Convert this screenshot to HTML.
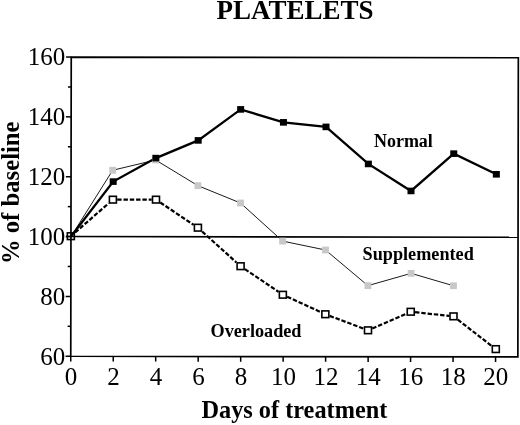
<!DOCTYPE html>
<html><head><meta charset="utf-8"><style>
html,body{margin:0;padding:0;background:#fff;}
body{width:520px;height:425px;overflow:hidden;}
svg{display:block;will-change:transform;}
text{font-family:"Liberation Serif",serif;fill:#000;}
.b{font-weight:bold;}
</style></head><body>
<svg width="520" height="425" viewBox="0 0 520 425">
<rect width="520" height="425" fill="#fff"/>

<path d="M71.24,57.04 L518.34,57.76 L517.86,356.96 L70.76,356.24 Z" fill="none" stroke="#000" stroke-width="1.7" stroke-linejoin="miter"/>
<line x1="65.95" y1="236.56" x2="518.05" y2="237.28" stroke="#000" stroke-width="1.6"/>
<line x1="65.56" y1="356.23" x2="70.76" y2="356.24" stroke="#000" stroke-width="1.5"/>
<line x1="67.61" y1="326.32" x2="70.81" y2="326.32" stroke="#000" stroke-width="1.5"/>
<line x1="65.66" y1="296.39" x2="70.86" y2="296.40" stroke="#000" stroke-width="1.5"/>
<line x1="67.70" y1="266.48" x2="70.90" y2="266.48" stroke="#000" stroke-width="1.5"/>
<line x1="65.75" y1="236.55" x2="70.95" y2="236.56" stroke="#000" stroke-width="1.5"/>
<line x1="67.80" y1="206.64" x2="71.00" y2="206.64" stroke="#000" stroke-width="1.5"/>
<line x1="65.85" y1="176.71" x2="71.05" y2="176.72" stroke="#000" stroke-width="1.5"/>
<line x1="67.90" y1="146.80" x2="71.10" y2="146.80" stroke="#000" stroke-width="1.5"/>
<line x1="65.94" y1="116.87" x2="71.14" y2="116.88" stroke="#000" stroke-width="1.5"/>
<line x1="67.99" y1="86.96" x2="71.19" y2="86.96" stroke="#000" stroke-width="1.5"/>
<line x1="66.04" y1="57.04" x2="71.24" y2="57.04" stroke="#000" stroke-width="1.5"/>
<line x1="70.76" y1="356.24" x2="70.75" y2="361.44" stroke="#000" stroke-width="1.5"/>
<line x1="113.24" y1="356.31" x2="113.23" y2="361.51" stroke="#000" stroke-width="1.5"/>
<line x1="155.72" y1="356.38" x2="155.71" y2="361.58" stroke="#000" stroke-width="1.5"/>
<line x1="198.20" y1="356.45" x2="198.19" y2="361.65" stroke="#000" stroke-width="1.5"/>
<line x1="240.68" y1="356.51" x2="240.67" y2="361.71" stroke="#000" stroke-width="1.5"/>
<line x1="283.16" y1="356.58" x2="283.15" y2="361.78" stroke="#000" stroke-width="1.5"/>
<line x1="325.64" y1="356.65" x2="325.63" y2="361.85" stroke="#000" stroke-width="1.5"/>
<line x1="368.12" y1="356.72" x2="368.11" y2="361.92" stroke="#000" stroke-width="1.5"/>
<line x1="410.60" y1="356.79" x2="410.59" y2="361.99" stroke="#000" stroke-width="1.5"/>
<line x1="453.08" y1="356.85" x2="453.07" y2="362.05" stroke="#000" stroke-width="1.5"/>
<line x1="495.56" y1="356.92" x2="495.55" y2="362.12" stroke="#000" stroke-width="1.5"/>
<text x="65.3" y="364.60" font-size="25" text-anchor="end">60</text>
<text x="65.3" y="304.76" font-size="25" text-anchor="end">80</text>
<text x="65.3" y="244.92" font-size="25" text-anchor="end">100</text>
<text x="65.3" y="185.08" font-size="25" text-anchor="end">120</text>
<text x="65.3" y="125.24" font-size="25" text-anchor="end">140</text>
<text x="65.3" y="65.40" font-size="25" text-anchor="end">160</text>
<text x="71.00" y="384.5" font-size="25" text-anchor="middle">0</text>
<text x="113.48" y="384.5" font-size="25" text-anchor="middle">2</text>
<text x="155.96" y="384.5" font-size="25" text-anchor="middle">4</text>
<text x="198.44" y="384.5" font-size="25" text-anchor="middle">6</text>
<text x="240.92" y="384.5" font-size="25" text-anchor="middle">8</text>
<text x="283.40" y="384.5" font-size="25" text-anchor="middle">10</text>
<text x="325.88" y="384.5" font-size="25" text-anchor="middle">12</text>
<text x="368.36" y="384.5" font-size="25" text-anchor="middle">14</text>
<text x="410.84" y="384.5" font-size="25" text-anchor="middle">16</text>
<text x="453.32" y="384.5" font-size="25" text-anchor="middle">18</text>
<text x="495.80" y="384.5" font-size="25" text-anchor="middle">20</text>
<polyline points="71.00,236.50 112.70,170.25 155.60,160.00 197.90,185.65 240.50,203.00 282.60,241.10 325.50,250.00 367.90,285.65 411.10,273.35 453.50,285.75" fill="none" stroke="#1a1a1a" stroke-width="1.0"/>
<line x1="75.15" y1="232.46" x2="108.60" y2="203.39" stroke="#000" stroke-width="2.2" stroke-dasharray="4.4 1.9"/>
<line x1="117.20" y1="199.65" x2="151.70" y2="199.65" stroke="#000" stroke-width="2.2" stroke-dasharray="4.4 1.9"/>
<line x1="160.30" y1="202.53" x2="193.60" y2="224.82" stroke="#000" stroke-width="2.2" stroke-dasharray="4.4 1.9"/>
<line x1="202.20" y1="231.58" x2="236.30" y2="262.32" stroke="#000" stroke-width="2.2" stroke-dasharray="4.4 1.9"/>
<line x1="244.90" y1="269.11" x2="278.55" y2="291.84" stroke="#000" stroke-width="2.2" stroke-dasharray="4.4 1.9"/>
<line x1="287.15" y1="296.72" x2="321.05" y2="312.28" stroke="#000" stroke-width="2.2" stroke-dasharray="4.4 1.9"/>
<line x1="329.65" y1="315.87" x2="363.70" y2="328.68" stroke="#000" stroke-width="2.2" stroke-dasharray="4.4 1.9"/>
<line x1="372.30" y1="328.43" x2="406.45" y2="313.62" stroke="#000" stroke-width="2.2" stroke-dasharray="4.4 1.9"/>
<line x1="415.05" y1="312.21" x2="449.20" y2="315.89" stroke="#000" stroke-width="2.2" stroke-dasharray="4.4 1.9"/>
<line x1="457.80" y1="319.68" x2="491.50" y2="345.77" stroke="#000" stroke-width="2.2" stroke-dasharray="4.4 1.9"/>
<polyline points="71.00,236.50 113.20,181.60 155.85,158.10 198.20,140.40 240.65,109.40 283.45,122.35 326.00,126.90 368.35,163.95 411.00,190.95 453.75,153.65 496.35,174.30" fill="none" stroke="#000" stroke-width="2.3" stroke-linejoin="miter"/>
<rect x="109.30" y="166.85" width="6.8" height="6.8" fill="#c8c8c8"/>
<rect x="152.20" y="156.60" width="6.8" height="6.8" fill="#c8c8c8"/>
<rect x="194.50" y="182.25" width="6.8" height="6.8" fill="#c8c8c8"/>
<rect x="237.10" y="199.60" width="6.8" height="6.8" fill="#c8c8c8"/>
<rect x="279.20" y="237.70" width="6.8" height="6.8" fill="#c8c8c8"/>
<rect x="322.10" y="246.60" width="6.8" height="6.8" fill="#c8c8c8"/>
<rect x="364.50" y="282.25" width="6.8" height="6.8" fill="#c8c8c8"/>
<rect x="407.70" y="269.95" width="6.8" height="6.8" fill="#c8c8c8"/>
<rect x="450.10" y="282.35" width="6.8" height="6.8" fill="#c8c8c8"/>
<rect x="109.70" y="178.30" width="7" height="6.6" fill="#000"/>
<rect x="152.35" y="154.80" width="7" height="6.6" fill="#000"/>
<rect x="194.70" y="137.10" width="7" height="6.6" fill="#000"/>
<rect x="237.15" y="106.10" width="7" height="6.6" fill="#000"/>
<rect x="279.95" y="119.05" width="7" height="6.6" fill="#000"/>
<rect x="322.50" y="123.60" width="7" height="6.6" fill="#000"/>
<rect x="364.85" y="160.65" width="7" height="6.6" fill="#000"/>
<rect x="407.50" y="187.65" width="7" height="6.6" fill="#000"/>
<rect x="450.25" y="150.35" width="7" height="6.6" fill="#000"/>
<rect x="492.85" y="171.00" width="7" height="6.6" fill="#000"/>
<rect x="67.35" y="232.85" width="7.0" height="6.7" fill="none" stroke="#000" stroke-width="1.6"/>
<rect x="109.40" y="196.30" width="7.0" height="6.7" fill="#fff" stroke="#000" stroke-width="1.6"/>
<rect x="152.50" y="196.30" width="7.0" height="6.7" fill="#fff" stroke="#000" stroke-width="1.6"/>
<rect x="194.40" y="224.35" width="7.0" height="6.7" fill="#fff" stroke="#000" stroke-width="1.6"/>
<rect x="237.10" y="262.85" width="7.0" height="6.7" fill="#fff" stroke="#000" stroke-width="1.6"/>
<rect x="279.35" y="291.40" width="7.0" height="6.7" fill="#fff" stroke="#000" stroke-width="1.6"/>
<rect x="321.85" y="310.90" width="7.0" height="6.7" fill="#fff" stroke="#000" stroke-width="1.6"/>
<rect x="364.50" y="326.95" width="7.0" height="6.7" fill="#fff" stroke="#000" stroke-width="1.6"/>
<rect x="407.25" y="308.40" width="7.0" height="6.7" fill="#fff" stroke="#000" stroke-width="1.6"/>
<rect x="450.00" y="313.00" width="7.0" height="6.7" fill="#fff" stroke="#000" stroke-width="1.6"/>
<rect x="492.30" y="345.75" width="7.0" height="6.7" fill="#fff" stroke="#000" stroke-width="1.6"/>
<text class="b" x="216.4" y="19.4" font-size="27">PLATELETS</text>
<text class="b" x="201.5" y="418.3" font-size="24.3">Days of treatment</text>
<text class="b" transform="translate(18.7,264.1) rotate(-90)" x="0" y="0" font-size="24.7">% of baseline</text>
<text class="b" x="373.9" y="146.8" font-size="18">Normal</text>
<text class="b" x="362.6" y="259.5" font-size="18.2">Supplemented</text>
<text class="b" x="210.5" y="337.2" font-size="18.2">Overloaded</text>
</svg></body></html>
